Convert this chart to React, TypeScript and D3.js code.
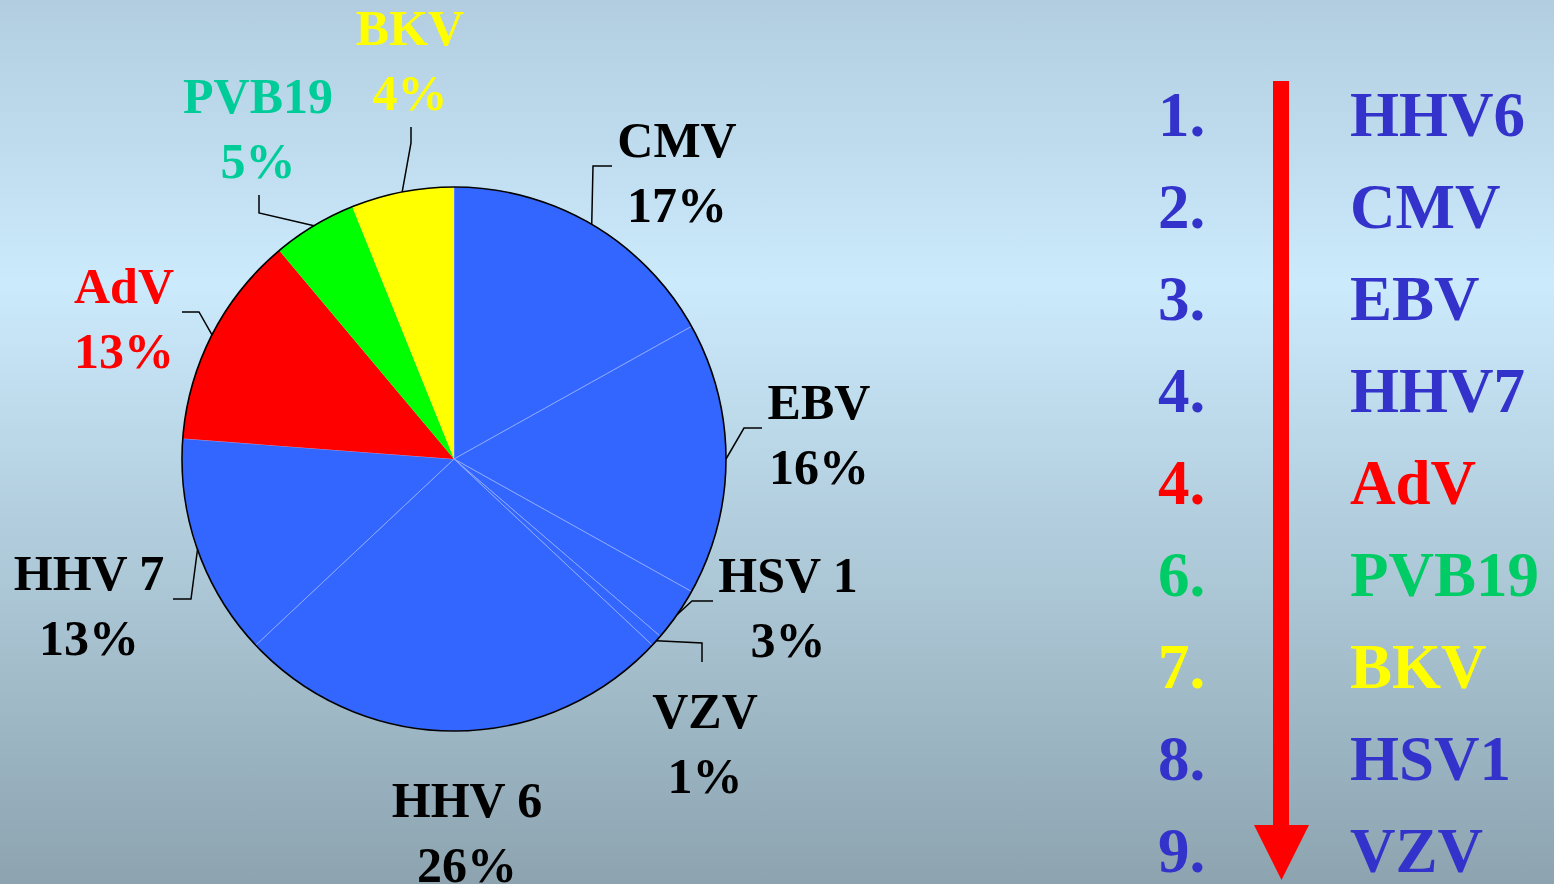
import React from "react";
import * as d3 from "d3";

// ---- data ----
const virusNames = ["CMV", "EBV", "HSV 1", "VZV", "HHV 6", "HHV 7", "AdV", "PVB19", "BKV"];
const sliceShares = [16.9, 16.2, 3.2, 0.7, 26.0, 13.2, 12.7, 5.0, 6.1];
const shareLabels = ["17%", "16%", "3%", "1%", "26%", "13%", "13%", "5%", "4%"];
const sliceColors = ["#3366ff", "#3366ff", "#3366ff", "#3366ff", "#3366ff", "#3366ff", "#ff0000", "#00ff00", "#ffff00"];
const labelColors = ["#000", "#000", "#000", "#000", "#000", "#000", "#ff0000", "#00cc99", "#ffff00"];

const rankNumbers = ["1.", "2.", "3.", "4.", "4.", "6.", "7.", "8.", "9."];
const rankNames = ["HHV6", "CMV", "EBV", "HHV7", "AdV", "PVB19", "BKV", "HSV1", "VZV"];
const rankColors = ["#3333cc", "#3333cc", "#3333cc", "#3333cc", "#ff0000", "#00cc66", "#ffff00", "#3333cc", "#3333cc"];

// ---- layout ----
const W = 1554, H = 884;
const CX = 454, CY = 459, R = 272;
// label centre x, first baseline y, leader elbow & end points
const labelLayout = [
  { x: 677, y: 157, elbow: [593, 166], end: [612, 166] },
  { x: 819, y: 419, elbow: [744, 428], end: [762, 428] },
  { x: 788, y: 592, elbow: [692, 601], end: [713, 601] },
  { x: 705, y: 728, elbow: [702, 643], end: [702, 662] },
  { x: 467, y: 817, elbow: null, end: null },
  { x: 89, y: 590, elbow: [191, 599], end: [173, 599] },
  { x: 124, y: 303, elbow: [199, 312], end: [182, 312] },
  { x: 258, y: 113, elbow: [259, 213], end: [259, 195] },
  { x: 410, y: 45, elbow: [411, 143], end: [411, 127] },
];

const FONT = "'Liberation Serif', 'Times New Roman', serif";

export default function App() {
  const pie = d3.pie<number>().sort(null).value((d) => d)(sliceShares);
  const arc = d3.arc<d3.PieArcDatum<number>>().innerRadius(0).outerRadius(R);

  const rowY = d3.scaleLinear().domain([0, 8]).range([136, 872]);

  return (
    <svg
      width={W}
      height={H}
      style={{ position: "absolute", left: 0, top: 0, display: "block" }}
    >
      <defs>
        <linearGradient id="bg" x1="0" y1="0" x2="0" y2="1">
          <stop offset="0" stopColor="#b2cde0" />
          <stop offset="0.32" stopColor="#cbeafc" />
          <stop offset="1" stopColor="#8da4b0" />
        </linearGradient>
      </defs>
      <rect x={0} y={0} width={W} height={H} fill="url(#bg)" />

      <g transform={`translate(${CX},${CY})`}>
        {pie.map((p, i) => (
          <path
            key={i}
            d={arc(p) || ""}
            fill={sliceColors[i]}
            stroke={sliceColors[i] === "#3366ff" ? "#9db4ff" : "none"}
            strokeWidth={0.7}
          />
        ))}
        <circle r={R} fill="none" stroke="#000" strokeWidth={1.6} />
      </g>

      {pie.map((p, i) => {
        const L = labelLayout[i];
        const mid = (p.startAngle + p.endAngle) / 2;
        const sx = CX + R * Math.sin(mid);
        const sy = CY - R * Math.cos(mid);
        return (
          <g key={"l" + i}>
            {L.elbow && L.end && (
              <polyline
                points={`${sx},${sy} ${L.elbow[0]},${L.elbow[1]} ${L.end[0]},${L.end[1]}`}
                fill="none"
                stroke="#000"
                strokeWidth={1.5}
              />
            )}
            <text
              x={L.x}
              y={L.y}
              textAnchor="middle"
              fontFamily={FONT}
              fontWeight="bold"
              fontSize={50}
              fill={labelColors[i]}
            >
              {virusNames[i]}
            </text>
            <text
              x={L.x}
              y={L.y + 65}
              textAnchor="middle"
              fontFamily={FONT}
              fontWeight="bold"
              fontSize={50}
              fill={labelColors[i]}
            >
              {shareLabels[i]}
            </text>
          </g>
        );
      })}

      {/* ranking list */}
      {rankNames.map((n, i) => (
        <g key={"r" + i}>
          <text
            x={1158}
            y={rowY(i)}
            fontFamily={FONT}
            fontWeight="bold"
            fontSize={63}
            fill={rankColors[i]}
          >
            {rankNumbers[i]}
          </text>
          <text
            x={1350}
            y={rowY(i)}
            fontFamily={FONT}
            fontWeight="bold"
            fontSize={63}
            fill={rankColors[i]}
          >
            {n}
          </text>
        </g>
      ))}

      {/* arrow */}
      <rect x={1273} y={81} width={16} height={746} fill="#ff0000" />
      <polygon points="1254,825 1309,825 1281.5,880" fill="#ff0000" />
    </svg>
  );
}
